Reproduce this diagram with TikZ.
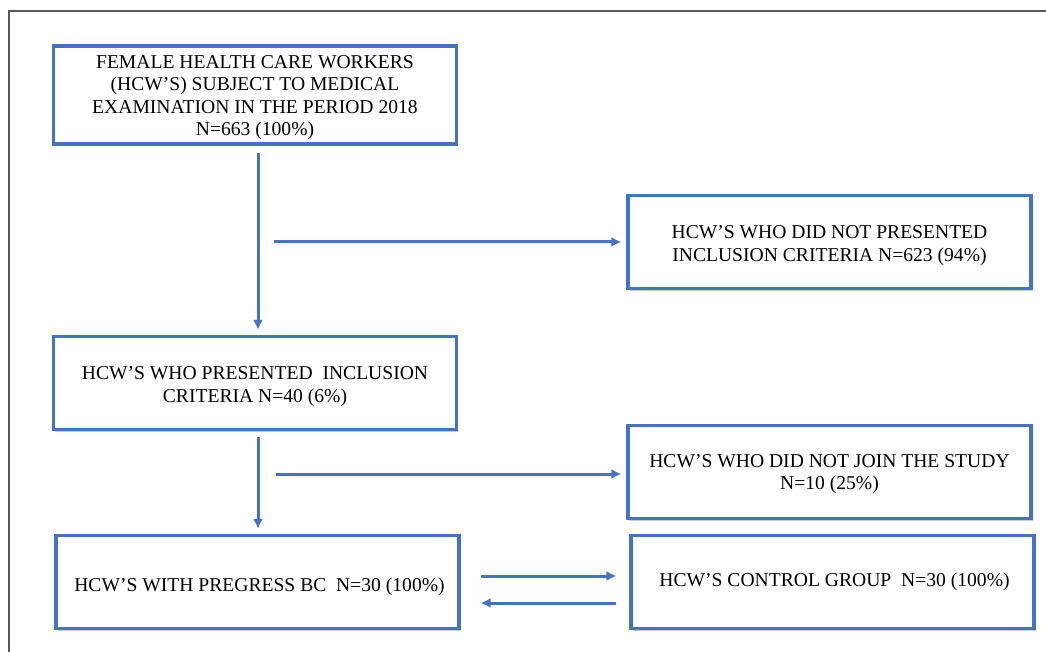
\documentclass[tikz,border=0pt]{standalone}
\usepackage{fontspec}
\setmainfont{Liberation Serif}
\usetikzlibrary{arrows.meta,shadows}

\definecolor{boxblue}{RGB}{68,114,196}
\definecolor{framegray}{RGB}{90,90,90}

% box text, lowered a little as in the original
\newcommand{\boxtext}[2][3.5pt]{\raisebox{-#1}[\height][\depth]{\begin{tabular}{@{}c@{}}#2\end{tabular}}}

\tikzset{
  flowbox/.style={draw=boxblue,line width=3.2pt,fill=white,minimum width=403pt,minimum height=93pt,
    inner sep=2pt,font=\fontsize{19.6}{22.6}\selectfont,
    drop shadow={shadow xshift=1.8pt,shadow yshift=-2pt,opacity=0.35,fill=black!60}},
  flowarr/.style={draw=boxblue,line width=3pt,-{Latex[length=10pt,width=10pt]}}
}

\begin{document}
\begin{tikzpicture}[x=1pt,y=-1pt]
    \useasboundingbox (0,0) rectangle (1046,652);

    % frame
    \draw[framegray,line width=1.6pt] (9,652) -- (9,11) -- (1046,11);

    \node[flowbox,minimum height=98pt] (start) at (255,95) {\boxtext[2.5pt]{FEMALE HEALTH CARE WORKERS\\(HCW’S) SUBJECT TO MEDICAL\\EXAMINATION IN THE PERIOD 2018\\N=663 (100\%)}};
    \node[flowbox] (notincl) at (829.5,242) {\boxtext{HCW’S WHO DID NOT PRESENTED\\INCLUSION CRITERIA N=623 (94\%)}};
    \node[flowbox] (incl) at (255,383) {\boxtext{HCW’S WHO PRESENTED\ \ INCLUSION\\CRITERIA N=40 (6\%)}};
    \node[flowbox] (notjoin) at (829.5,472) {\boxtext[2pt]{HCW’S WHO DID NOT JOIN THE STUDY\\N=10 (25\%)}};
    \node[flowbox] (bc) at (257.5,582) {\boxtext[5pt]{\hspace*{4pt}HCW’S WITH PREGRESS BC\ \ N=30 (100\%)}};
    \node[flowbox] (control) at (832.5,582) {\boxtext[0pt]{\hspace*{4pt}HCW’S CONTROL GROUP\ \ N=30 (100\%)}};

    % side arrow starts
    \coordinate (s1) at (274,242);
    \coordinate (s2) at (276,474);

    \draw[flowarr,shorten <=7pt,shorten >=5pt] (258,0 |- start.south) -- (258,0 |- incl.north);
    \draw[flowarr,shorten <=6pt,shorten >=5pt] (258,0 |- incl.south) -- (258,0 |- bc.north);
    \draw[flowarr,shorten >=5pt] (s1) -- (s1 -| notincl.west);
    \draw[flowarr,shorten >=5pt] (s2) -- (s2 -| notjoin.west);

    % between the two groups
    \draw[flowarr,shorten <=20pt,shorten >=13pt] (bc.east |- 0,576) -- (control.west |- 0,576);
    \draw[flowarr,shorten <=13pt,shorten >=20pt] (control.west |- 0,603) -- (bc.east |- 0,603);
\end{tikzpicture}
\end{document}
